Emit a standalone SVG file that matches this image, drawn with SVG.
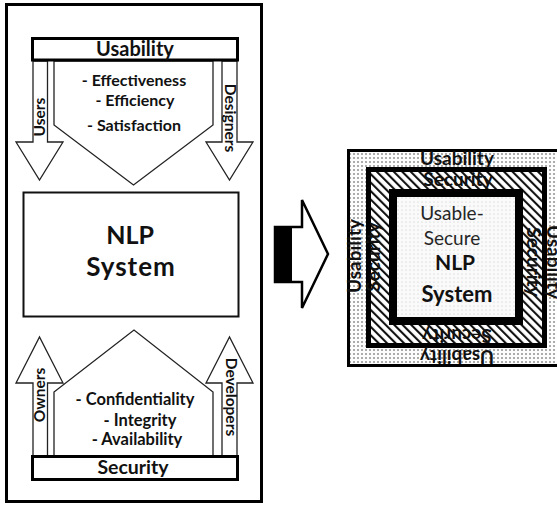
<svg xmlns="http://www.w3.org/2000/svg" width="557" height="505" viewBox="0 0 557 505">
  <style>
    .t { font-family: Lato, "Liberation Sans", sans-serif; font-weight: bold; fill: #111; }
    .m { text-anchor: middle; }
    .thin { fill: #fff; stroke: #222; stroke-width: 1.3; stroke-linejoin: miter; }
    .box { fill: #fff; stroke: #000; stroke-width: 3; }
    .lay { font-size: 19px; }
  </style>
  <defs>
    <pattern id="dots" width="4" height="4" patternUnits="userSpaceOnUse">
      <rect width="4" height="4" fill="#fdfdfd"/>
      <circle cx="2" cy="2" r="0.8" fill="#444"/>
    </pattern>
    <pattern id="hatch" width="6" height="6" patternUnits="userSpaceOnUse" patternTransform="rotate(-45)">
      <rect width="6" height="6" fill="#fff"/>
      <line x1="1" y1="0" x2="1" y2="6" stroke="#111" stroke-width="2.2"/>
    </pattern>
    <pattern id="grid" width="4" height="8" patternUnits="userSpaceOnUse">
      <rect width="4" height="8" fill="#fafafa"/>
      <circle cx="2" cy="2" r="0.6" fill="#c4c4c4"/>
      <circle cx="2" cy="6" r="0.6" fill="#c4c4c4"/>
    </pattern>
  </defs>

  <!-- left panel frame -->
  <rect id="frame" x="6.5" y="4.5" width="255" height="497" fill="#fff" stroke="#000" stroke-width="3"/>

  <g id="connectors">
    <!-- Users arrow -->
    <polygon class="thin" points="33,61 47.5,61 47.5,142 63,142 39.5,180 16,142 33,142"/>
    <!-- Designers arrow -->
    <polygon class="thin" points="222,61 237,61 237,142 253,142 229.5,180 206,142 222,142"/>
    <!-- Owners arrow -->
    <polygon class="thin" points="33,456 33,383 16,383 39.5,337 63,383 47.5,383 47.5,456"/>
    <!-- Developers arrow -->
    <polygon class="thin" points="222,456 222,383 206,383 229.5,337 253,383 237,383 237,456"/>
    <!-- transformation arrow -->
    <polygon points="275,227 302,227 302,200 328,254 302,308 302,282 275,282" fill="#fff" stroke="#000" stroke-width="2.5" stroke-linejoin="miter"/>
    <rect x="275" y="227" width="17" height="55" fill="#000"/>
  </g>

  <g id="usability-attributes">
    <polygon class="thin" points="54,61 213,61 213,125 133.5,185 54,125"/>
    <text class="t m" x="134" y="86" font-size="16">- Effectiveness</text>
    <text class="t m" x="135" y="106" font-size="16">- Efficiency</text>
    <text class="t m" x="134" y="131" font-size="16">- Satisfaction</text>
  </g>

  <g id="usability">
    <rect class="box" x="32.5" y="38.5" width="205" height="21.5"/>
    <text class="t m" x="135" y="56" font-size="20">Usability</text>
  </g>

  <g id="users-label">
    <text class="t m" transform="translate(45,117) rotate(-90)" font-size="15.5">Users</text>
  </g>
  <g id="designers-label">
    <text class="t m" transform="translate(225,118) rotate(90)" font-size="15.5">Designers</text>
  </g>

  <g id="nlp-system">
    <rect x="23.5" y="192.5" width="215" height="124" fill="#fff" stroke="#111" stroke-width="2"/>
    <text class="t m" x="130" y="244" font-size="25">NLP</text>
    <text class="t m" x="131" y="276" font-size="26" letter-spacing="1">System</text>
  </g>

  <g id="security-attributes">
    <polygon class="thin" points="54,456 54,392 134,330 213,392 213,456"/>
    <text class="t m" x="135" y="405" font-size="16.5">- Confidentiality</text>
    <text class="t m" x="140" y="426" font-size="16.5">- Integrity</text>
    <text class="t m" x="137" y="445" font-size="16.5">- Availability</text>
  </g>

  <g id="owners-label">
    <text class="t m" transform="translate(45,395) rotate(-90)" font-size="15.5">Owners</text>
  </g>
  <g id="developers-label">
    <text class="t m" transform="translate(226,397) rotate(90)" font-size="15.5">Developers</text>
  </g>

  <g id="security">
    <rect class="box" x="32.5" y="456.5" width="205" height="23"/>
    <text class="t m" x="133" y="474" font-size="19.5">Security</text>
  </g>

  <!-- nested usable-secure system -->
  <g id="usability-layer">
    <rect x="348.5" y="150.5" width="215" height="215" fill="url(#dots)" stroke="#000" stroke-width="3"/>
  </g>
  <g id="security-layer">
    <rect x="368.5" y="169.5" width="176" height="176" fill="url(#hatch)" stroke="#000" stroke-width="5"/>
  </g>
  <g id="usable-secure-nlp">
    <rect x="393" y="193" width="126" height="128" fill="url(#grid)" stroke="#000" stroke-width="8"/>
    <text class="m" x="452" y="220" font-family="Lato, 'Liberation Sans', sans-serif" font-size="19" fill="#262626">Usable-</text>
    <text class="m" x="452" y="245" font-family="Lato, 'Liberation Sans', sans-serif" font-size="19" fill="#262626">Secure</text>
    <text class="t m" x="455" y="270" font-size="21">NLP</text>
    <text class="t m" x="457" y="302" font-size="22">System</text>
  </g>

  <g id="layer-labels">
    <text class="t m lay" x="457" y="165">Usability</text>
    <text class="t m lay" x="458" y="186">Security</text>
    <text class="t m lay" transform="translate(361,256) rotate(-90)">Usability</text>
    <text class="t m lay" transform="translate(380,257) rotate(-90)">Security</text>
    <text class="t m lay" transform="translate(527,262) rotate(90)">Security</text>
    <text class="t m lay" transform="translate(547,262) rotate(90)">Usability</text>
    <text class="t m lay" transform="translate(457,329) rotate(180)">Security</text>
    <text class="t m lay" transform="translate(457,350) rotate(180)">Usability</text>
  </g>
</svg>
